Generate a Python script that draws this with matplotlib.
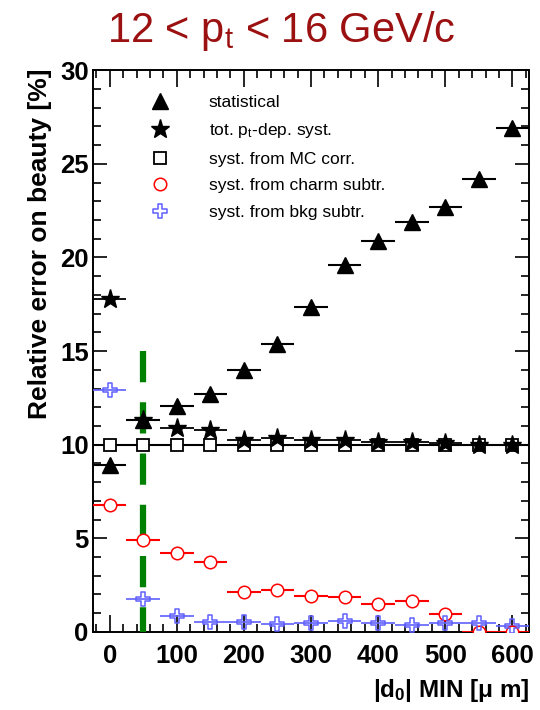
import numpy as np
import matplotlib
matplotlib.use("Agg")
import matplotlib.pyplot as plt
from matplotlib.path import Path
from matplotlib.lines import Line2D
from matplotlib.ticker import MultipleLocator

plt.rcParams["font.family"] = ["Liberation Sans", "DejaVu Sans"]
plt.rcParams["mathtext.fontset"] = "custom"
plt.rcParams["mathtext.rm"] = "Liberation Sans"
plt.rcParams["mathtext.it"] = "Liberation Sans:italic"
plt.rcParams["mathtext.bf"] = "Liberation Sans:bold"

# ---------- data (|d0| MIN cut in um, relative error in %) ----------
d0_min = [0, 50, 100, 150, 200, 250, 300, 350, 400, 450, 500, 550, 600]
bin_half = 25

statistical = [8.9, 11.3, 12.05, 12.7, 14.0, 15.4, 17.35, 19.6, 20.9, 21.9, 22.7, 24.2, 26.9]
tot_syst = [17.8, 11.3, 10.9, 10.8, 10.25, 10.35, 10.25, 10.25, 10.15, 10.15, 10.1, 10.0, 10.0]
mc_corr = [10.0] * 13
charm_subtr = [6.78, 4.9, 4.2, 3.75, 2.15, 2.25, 1.93, 1.85, 1.5, 1.67, 0.95, 0.0, 0.0]
bkg_subtr = [12.9, 1.75, 0.87, 0.55, 0.55, 0.43, 0.45, 0.6, 0.5, 0.35, 0.45, 0.5, 0.33]

cut_x = 50
cut_top = 15

# open cross marker (ROOT style 28)
a = 0.3
cross = Path([(-a, 1), (a, 1), (a, a), (1, a), (1, -a), (a, -a), (a, -1), (-a, -1),
              (-a, -a), (-1, -a), (-1, a), (-a, a), (-a, 1)], closed=True)

fig = plt.figure(figsize=(5.4, 7.1), dpi=100)
ax = fig.add_axes([0.172, 0.110, 0.808, 0.791])

x = np.array(d0_min)
xerr = np.full(len(x), bin_half)
blue = "#6060ff"

ax.errorbar(x, mc_corr, xerr=xerr, fmt="s", ms=8.5, mfc="white", mec="black", mew=1.3,
            ecolor="black", elinewidth=1.5, capsize=0, zorder=2)
# drawn top -> bottom so the dash pattern starts at the top end
ax.vlines(cut_x, cut_top, 0, colors="#008000", linestyles=(0, (5.0, 3.2)), linewidth=4.5, zorder=3)
ax.errorbar(x, charm_subtr, xerr=xerr, fmt="o", ms=9, mfc="white", mec="red", mew=1.1,
            ecolor="red", elinewidth=1.5, capsize=0, zorder=4)
ax.errorbar(x, bkg_subtr, xerr=xerr, fmt="none", ecolor=blue, elinewidth=1.2, capsize=0, zorder=4)
ax.plot(x, bkg_subtr, ls="none", marker=cross, ms=10, mfc="none", mec=blue, mew=1.1, zorder=5)
ax.errorbar(x, tot_syst, xerr=xerr, fmt="*", ms=14, color="black", elinewidth=1.3, capsize=0, zorder=6)
ax.errorbar(x, statistical, xerr=xerr, fmt="^", ms=12, color="black", elinewidth=1.5, capsize=0, zorder=7)

ax.set_xlim(-25, 625)
ax.set_ylim(0, 30)
ax.xaxis.set_major_locator(MultipleLocator(100))
ax.xaxis.set_minor_locator(MultipleLocator(20))
ax.yaxis.set_major_locator(MultipleLocator(5))
ax.yaxis.set_minor_locator(MultipleLocator(1))
ax.tick_params(axis="x", which="both", direction="in", top=True, bottom=True, width=1.2)
ax.tick_params(axis="y", which="both", direction="in", left=True, right=True, width=1.2)
ax.tick_params(axis="x", which="major", length=12, pad=9, labelsize=18.5)
ax.tick_params(axis="x", which="minor", length=5.5)
ax.tick_params(axis="y", which="major", length=10, pad=3, labelsize=18.5)
ax.tick_params(axis="y", which="minor", length=5.5)
for lab in ax.get_xticklabels() + ax.get_yticklabels():
    lab.set_fontweight("bold")
for sp in ax.spines.values():
    sp.set_linewidth(1.4)

ax.set_xlabel(r"|d$_\mathbf{0}$| MIN [μ m]", fontsize=17.5, fontweight="bold", loc="right")
ax.xaxis.set_label_coords(1.0, -0.08)
ax.set_ylabel("Relative error on beauty [%]", fontsize=19, fontweight="bold", loc="top")
ax.yaxis.set_label_coords(-0.093, 1.004)

handles = [
    Line2D([], [], ls="none", marker="^", ms=12, color="black"),
    Line2D([], [], ls="none", marker="*", ms=14, color="black"),
    Line2D([], [], ls="none", marker="s", ms=8.5, mfc="white", mec="black", mew=1.3),
    Line2D([], [], ls="none", marker="o", ms=9, mfc="white", mec="red", mew=1.1),
    Line2D([], [], ls="none", marker=cross, ms=10, mfc="none", mec=blue, mew=1.1),
]
labels = ["statistical", r"tot. p$_\mathregular{t}$-dep. syst.", "syst. from MC corr.",
          "syst. from charm subtr.", "syst. from bkg subtr."]
ax.legend(handles, labels, loc="upper left", bbox_to_anchor=(0.113, 0.956), frameon=False,
          fontsize=12.5, handlelength=2, handletextpad=1.84, labelspacing=0.65,
          borderpad=0, borderaxespad=0)

fig.text(0.52, 0.957, r"12 < p$_\mathregular{t}$ < 16 GeV/c", fontsize=30, color="#9b1010",
         ha="center", va="center")

fig.savefig("out.png", dpi=100)
